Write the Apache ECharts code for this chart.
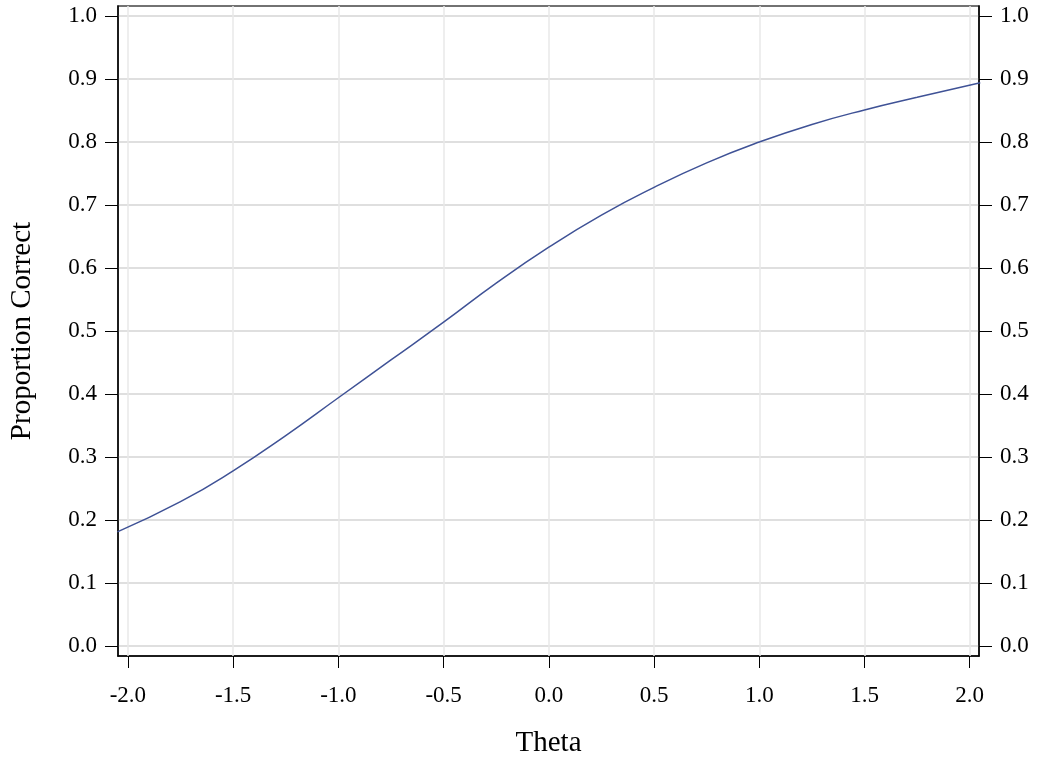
<!DOCTYPE html>
<html>
<head>
<meta charset="utf-8">
<script src="https://cdn.jsdelivr.net/npm/echarts@6/dist/echarts.min.js"></script>
<style>
html,body{margin:0;padding:0;background:#fff;}
#chart{width:1039px;height:761px;}
</style>
</head>
<body>
<div id="chart"></div>
<script>
// Data
var theta = [-2.05, -1.75, -1.5, -1.25, -1.0, -0.75, -0.5, -0.25, 0.0, 0.25, 0.5, 0.75, 1.0, 1.25, 1.5, 1.75, 2.05];
var proportion = [0.181, 0.229, 0.278, 0.334, 0.394, 0.454, 0.514, 0.576, 0.633, 0.684, 0.728, 0.767, 0.800, 0.828, 0.851, 0.871, 0.894];
var xTicks = [-2.0, -1.5, -1.0, -0.5, 0.0, 0.5, 1.0, 1.5, 2.0];
var yTicks = [0.0, 0.1, 0.2, 0.3, 0.4, 0.5, 0.6, 0.7, 0.8, 0.9, 1.0];
var xTitle = 'Theta';
var yTitle = 'Proportion Correct';

var points = theta.map(function (t, i) { return [t, proportion[i]]; });
var FONT = '"Liberation Serif", "Times New Roman", serif';
var chart = echarts.init(document.getElementById('chart'), null, {renderer: 'canvas'});

function yAxisDef(pos, showSplit) {
  return {
    type: 'value', position: pos,
    min: -0.016, max: 1.016,
    name: pos === 'left' ? yTitle : '',
    nameLocation: 'middle', nameGap: 81,
    nameTextStyle: {fontFamily: FONT, fontSize: 29, color: '#000'},
    axisLine: {show: true, onZero: false, lineStyle: {color: '#000', width: 1.5}},
    axisTick: {show: true, length: 13, lineStyle: {color: '#000', width: 1},
      customValues: yTicks},
    axisLabel: {show: true, margin: 21, fontFamily: FONT, fontSize: 23, color: '#000',
      customValues: yTicks,
      formatter: function (v) { return v.toFixed(1); }},
    splitLine: {show: showSplit, lineStyle: {color: '#d4d4d4', width: 1.5}},
    splitNumber: 10
  };
}

chart.setOption({
  animation: false,
  backgroundColor: '#fff',
  grid: {left: 118, right: 60, top: 6, bottom: 105, show: true,
    outerBoundsMode: 'none', containLabel: false,
    borderColor: '#444', borderWidth: 1.5, backgroundColor: 'transparent'},
  xAxis: {
    type: 'value', min: -2.047, max: 2.044,
    name: xTitle, nameLocation: 'middle', nameGap: 73,
    nameTextStyle: {fontFamily: FONT, fontSize: 29, color: '#000'},
    axisLine: {show: true, onZero: false, lineStyle: {color: '#000', width: 1.5}},
    axisTick: {show: true, length: 12, lineStyle: {color: '#000', width: 1},
      customValues: xTicks},
    axisLabel: {show: true, margin: 28, fontFamily: FONT, fontSize: 23, color: '#000',
      customValues: xTicks,
      formatter: function (v) { return v.toFixed(1); }},
    splitLine: {show: false}
  },
  yAxis: [yAxisDef('left', true), yAxisDef('right', false)],
  series: [
    {
      type: 'line', data: points, smooth: 0.5,
      showSymbol: false, symbol: 'none',
      lineStyle: {color: '#3f5296', width: 1.5}, z: 5
    },
    {
      // vertical gridlines at the x tick positions
      type: 'line', data: [], markLine: {
        silent: true, symbol: 'none', label: {show: false},
        lineStyle: {color: '#e9e9e9', width: 1.5, type: 'solid'},
        data: xTicks.map(function (t) { return {xAxis: t}; })
      }, z: 1
    }
  ]
});
</script>
</body>
</html>
